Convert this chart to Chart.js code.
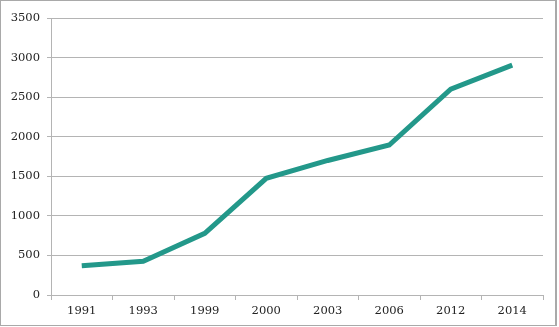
<!DOCTYPE html>
<html>
<head>
<meta charset="utf-8">
<script src="https://cdn.jsdelivr.net/npm/chart.js@4"></script>
<style>
  html, body { margin: 0; padding: 0; background: #fff; }
  #wrap {
    position: relative;
    width: 557px;
    height: 326px;
    border: 1px solid #a9a9a9;
    border-right-width: 2px;
    box-sizing: border-box;
  }
  #chart { position: absolute; left: 0; top: 0; }
</style>
</head>
<body>
<div id="wrap"><canvas id="chart" width="559" height="327"></canvas></div>
<script>
// Anni e valori della serie
const years = ['1991', '1993', '1999', '2000', '2003', '2006', '2012', '2014'];
const values = [370, 425, 780, 1475, 1700, 1895, 2600, 2905];
const yMax = 3500;
const yStep = 500;

const lineColor = '#23988a';
const gridColor = '#b4b4b4';
const fontSpec = { family: '"DejaVu Serif", serif', size: 11.5 };

const ctx = document.getElementById('chart').getContext('2d');
new Chart(ctx, {
  type: 'line',
  data: {
    labels: years,
    datasets: [{
      data: values,
      borderColor: lineColor,
      borderWidth: 5,
      pointRadius: 0,
      tension: 0,
      fill: false
    }]
  },
  options: {
    responsive: false,
    animation: false,
    layout: { padding: { top: 17, right: 17, left: 0, bottom: 0 } },
    plugins: { legend: { display: false }, tooltip: { enabled: false } },
    scales: {
      x: {
        offset: true,
        grid: { offset: true, drawOnChartArea: false, color: gridColor, tickLength: 5 },
        border: { color: gridColor, width: 1 },
        ticks: { color: '#222', font: fontSpec, padding: 4, maxRotation: 0 },
        afterFit: (scale) => { scale.height = 33; }
      },
      y: {
        min: 0,
        max: yMax,
        grid: { color: gridColor, tickLength: 4 },
        border: { color: gridColor, width: 1 },
        // numeri senza separatore delle migliaia
        ticks: { stepSize: yStep, color: '#222', font: fontSpec, padding: 7, callback: (v) => String(v) },
        afterFit: (scale) => { scale.width = 50; }
      }
    }
  }
});
</script>
</body>
</html>
